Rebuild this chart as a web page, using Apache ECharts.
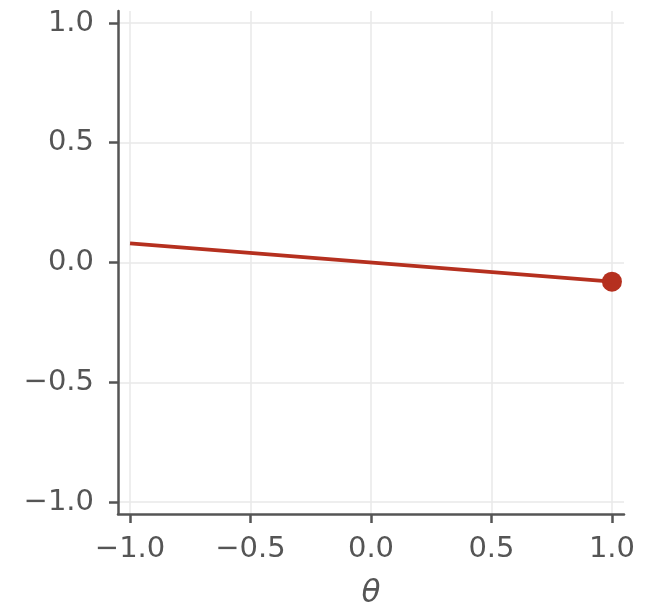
<!DOCTYPE html>
<html><head><meta charset="utf-8">
<script src="https://cdn.jsdelivr.net/npm/echarts@6/dist/echarts.min.js"></script>
<style>html,body{margin:0;padding:0;background:#fff}#c{width:647px;height:608px}</style>
</head><body><div id="c"></div>
<script>
const theta = [-1.0, 1.0];
const values = [0.08, -0.08];
const endPoint = [[1.0, -0.08]];
const tickValues = [-1.0, -0.5, 0.0, 0.5, 1.0];
const xName = 'θ';

const fmt = v => (Math.abs(v) < 1e-9 ? 0 : v).toFixed(1).replace('-', '\u2212');
const axisCommon = {
  type: 'value', min: -1.05, max: 1.05,
  axisLine: { show: true, onZero: false, lineStyle: { color: '#555', width: 2.5 } },
  axisTick: { show: true, customValues: tickValues, length: 9, lineStyle: { color: '#555', width: 2.5 } },
  axisLabel: { customValues: tickValues, formatter: fmt, color: '#555', fontSize: 29, fontFamily: 'DejaVu Sans' },
  splitLine: { show: true, lineStyle: { color: '#e8e8e8', width: 1.5 } }
};
const chart = echarts.init(document.getElementById('c'));
chart.setOption({
  animation: false,
  grid: { left: 118, right: 23, top: 11, bottom: 94, outerBoundsMode: 'none', containLabel: false },
  xAxis: Object.assign({}, axisCommon, {
    name: xName, nameLocation: 'middle', nameGap: 64,
    nameTextStyle: { fontSize: 31, fontStyle: 'italic', color: '#555', fontFamily: 'DejaVu Sans' },
    axisLabel: Object.assign({}, axisCommon.axisLabel, { margin: 21 })
  }),
  yAxis: Object.assign({}, axisCommon, {
    axisLabel: Object.assign({}, axisCommon.axisLabel, { margin: 24 })
  }),
  series: [
    { type: 'line', data: theta.map((t, i) => [t, values[i]]), showSymbol: false,
      lineStyle: { color: '#b5301f', width: 3.8 }, itemStyle: { color: '#b5301f' } },
    { type: 'scatter', data: endPoint, symbolSize: 20, itemStyle: { color: '#b5301f', opacity: 1 } }
  ]
});
</script></body></html>
